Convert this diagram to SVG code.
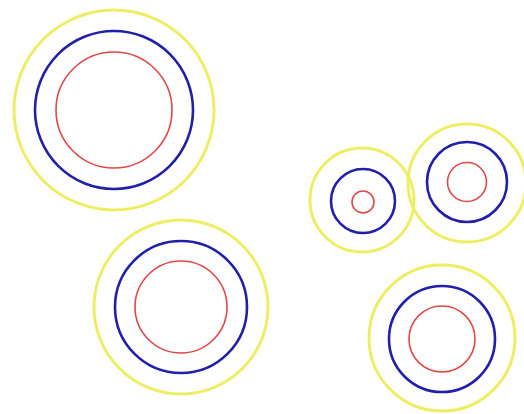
<svg xmlns="http://www.w3.org/2000/svg" width="524" height="414" viewBox="0 0 524 414">
<style>
.y{fill:none;stroke:#eeee66;stroke-width:3}
.b{fill:none;stroke:#2020a8;stroke-width:2.6}
.r{fill:none;stroke:#e04848;stroke-width:1.6}
</style>
<rect width="524" height="414" fill="#ffffff"/>
<g id="ring1"><circle class="y" cx="114" cy="110" r="100"/><circle class="b" cx="114" cy="110" r="79"/><circle class="r" cx="114" cy="110" r="58"/></g>
<g id="ring2"><circle class="y" cx="181" cy="307" r="87"/><circle class="b" cx="181" cy="307" r="66"/><circle class="r" cx="181" cy="307" r="46"/></g>
<g id="ring3"><circle class="y" cx="362" cy="200" r="52"/><circle class="b" cx="363" cy="201" r="32"/><circle class="r" cx="363" cy="202" r="11"/></g>
<g id="ring4"><circle class="y" cx="467" cy="183" r="59"/><circle class="b" cx="467" cy="182" r="40"/><circle class="r" cx="467" cy="182" r="19.5"/></g>
<g id="ring5"><circle class="y" cx="442" cy="338" r="73"/><circle class="b" cx="442" cy="339" r="53"/><circle class="r" cx="442" cy="339" r="33"/></g>
<g id="connectors"></g>
</svg>
